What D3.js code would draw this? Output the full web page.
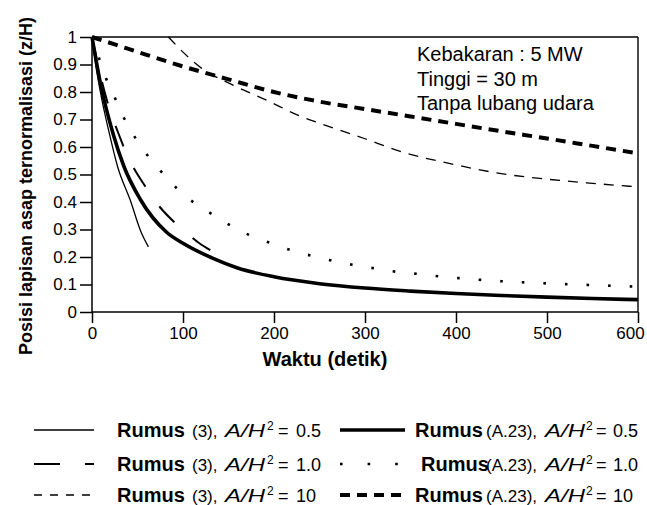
<!DOCTYPE html>
<html><head><meta charset="utf-8">
<script src="https://cdn.jsdelivr.net/npm/d3@7/dist/d3.min.js"></script>
<style>
body{margin:0;background:#fff}
svg{display:block}
text{font-family:"Liberation Sans",Arial,Helvetica,sans-serif;fill:#000}
</style>
</head><body>
<svg id="chart" width="647" height="505"></svg>
<script>
// ---------- data ----------
const xTickValues = [0, 100, 200, 300, 400, 500, 600];
const xTickLabels = ["0", "100", "200", "300", "400", "500", "600"];
const yTickValues = [0, 0.1, 0.2, 0.3, 0.4, 0.5, 0.6, 0.7, 0.8, 0.9, 1];
const yTickLabels = ["0", "0.1", "0.2", "0.3", "0.4", "0.5", "0.6", "0.7", "0.8", "0.9", "1"];

// Rumus (3), A/H2 = 0.5
const tR3_05 = [0, 4, 11, 19, 28, 42, 54, 62];
const vR3_05 = [1, 0.9, 0.77, 0.65, 0.53, 0.407, 0.29, 0.237];
// Rumus (3), A/H2 = 1.0
const tR3_10 = [0, 10, 20, 29, 40, 52, 60, 75, 91, 105, 118, 130];
const vR3_10 = [1, 0.85, 0.73, 0.65, 0.56, 0.49, 0.45, 0.38, 0.325, 0.285, 0.25, 0.225];
// Rumus (3), A/H2 = 10
const tR3_100 = [84, 100, 119, 155, 192, 229, 254, 300, 338, 400, 448, 500, 550, 600];
const vR3_100 = [1, 0.945, 0.89, 0.825, 0.77, 0.712, 0.682, 0.63, 0.585, 0.535, 0.504, 0.483, 0.468, 0.455];
// Rumus (A.23), A/H2 = 0.5
const tA23_05 = [0, 10, 23, 35, 53, 82, 100, 133, 160, 200, 250, 300, 350, 400, 450, 500, 550, 600];
const vA23_05 = [1, 0.82, 0.65, 0.53, 0.41, 0.29, 0.25, 0.195, 0.16, 0.128, 0.103, 0.087, 0.076, 0.067, 0.06, 0.054, 0.049, 0.045];
// Rumus (A.23), A/H2 = 1.0
const tA23_10 = [0, 8, 15, 25, 34, 45, 57, 71, 86, 103, 122, 141, 160, 203, 226, 249, 272, 295, 317, 340, 363, 386, 407, 450, 500, 550, 600];
const vA23_10 = [1, 0.92, 0.853, 0.78, 0.713, 0.647, 0.587, 0.53, 0.474, 0.42, 0.377, 0.337, 0.3, 0.243, 0.217, 0.199, 0.18, 0.167, 0.155, 0.144, 0.137, 0.128, 0.122, 0.112, 0.104, 0.098, 0.092];
// Rumus (A.23), A/H2 = 10
const tA23_100 = [0, 25, 60, 100, 150, 200, 250, 300, 350, 400, 450, 500, 550, 600];
const vA23_100 = [1, 0.973, 0.935, 0.893, 0.846, 0.8, 0.765, 0.738, 0.711, 0.684, 0.657, 0.631, 0.604, 0.577];

const seriesFormula = ["(3),", "(3),", "(3),", "(A.23),", "(A.23),", "(A.23),"];
const seriesRatio = ["0.5", "1.0", "10", "0.5", "1.0", "10"];

const annotationLines = ["Kebakaran : 5 MW", "Tinggi = 30 m", "Tanpa lubang udara"];
const xTitle = "Waktu (detik)";
const yTitle = "Posisi lapisan asap ternormalisasi (z/H)";

// ---------- styles ----------
const styles = [
  {w: 1.3, dash: null},
  {w: 2, dash: "22,24", legendDash: "26,25,10,100"},
  {w: 1.3, dash: "10,8", legendDash: "8,8"},
  {w: 3.6, dash: null},
  {w: 2.6, dash: "2.6,19", legendDash: "2.6,25"},
  {w: 4, dash: "10,7", legendDash: "10,7"}
];

const series = [
  [tR3_05, vR3_05], [tR3_10, vR3_10], [tR3_100, vR3_100],
  [tA23_05, vA23_05], [tA23_10, vA23_10], [tA23_100, vA23_100]
];

const svg = d3.select("#chart");
const L = 92, R = 638, T = 37, B = 312;
const x = d3.scaleLinear().domain([0, 600]).range([L, R]);
const y = d3.scaleLinear().domain([0, 1]).range([B, T]);

// frame
svg.append("line").attr("x1", L).attr("x2", R).attr("y1", T).attr("y2", T).attr("stroke", "#000").attr("stroke-width", 1.4);
svg.append("line").attr("x1", R).attr("x2", R).attr("y1", T).attr("y2", B).attr("stroke", "#000").attr("stroke-width", 1.4);

// axes
const xAxis = d3.axisBottom(x).tickValues(xTickValues).tickFormat((d, i) => xTickLabels[i]).tickSizeOuter(0).tickSize(11).tickPadding(4);
const gx = svg.append("g").attr("transform", `translate(0,${B})`).call(xAxis);
const yAxis = d3.axisLeft(y).tickValues(yTickValues).tickFormat((d, i) => yTickLabels[i]).tickSizeOuter(0).tickSize(12).tickPadding(3);
const gy = svg.append("g").attr("transform", `translate(${L},0)`).call(yAxis);
[gx, gy].forEach(g => {
  g.selectAll("path.domain").attr("stroke", "#000").attr("stroke-width", 1.5);
  g.selectAll(".tick line").attr("stroke", "#000").attr("stroke-width", 1.5);
  g.selectAll(".tick text").attr("fill", "#000").style("font-size", "17px").style("font-family", '"Liberation Sans",Arial,sans-serif');
});
gy.select("path.domain").attr("d", `M0,${B}V${T}`);
gx.select("path.domain").attr("d", `M${L},0H${R}`);
// last x label kept inside the picture
gx.selectAll(".tick text").filter(d => d === 600).attr("dx", -8);

// curves
const line = d3.line().x(d => x(d[0])).y(d => y(d[1])).curve(d3.curveMonotoneX);
series.forEach((s, i) => {
  const pts = s[0].map((t, j) => [t, s[1][j]]);
  const p = svg.append("path").attr("d", line(pts)).attr("fill", "none")
    .attr("stroke", "#000").attr("stroke-width", styles[i].w);
  if (styles[i].dash) p.attr("stroke-dasharray", styles[i].dash);
});

// annotation
annotationLines.forEach((s, i) => {
  svg.append("text").attr("x", 417).attr("y", 61 + i * 24.5).style("font-size", "20px").text(s);
});

// axis titles
svg.append("text").attr("x", 325).attr("y", 366).attr("text-anchor", "middle")
  .style("font-size", "20px").style("font-weight", "bold").text(xTitle);
svg.append("text").attr("transform", "translate(32,186) rotate(-90)").attr("text-anchor", "middle")
  .style("font-size", "18px").style("font-weight", "bold").text(yTitle);

// legend
const legendRowY = [430, 464, 495];
const legendCols = [{lx1: 34, lx2: 94, tx: 117}, {lx1: 340, lx2: 405, tx: 415}];
series.forEach((s, i) => {
  const col = legendCols[Math.floor(i / 3)], row = i % 3;
  const yy = legendRowY[row];
  const ln = svg.append("line").attr("x1", col.lx1).attr("x2", col.lx2).attr("y1", yy).attr("y2", yy)
    .attr("stroke", "#000").attr("stroke-width", styles[i].w);
  if (styles[i].legendDash) ln.attr("stroke-dasharray", styles[i].legendDash);
  const isA = i >= 3;
  const off = isA ? [0, 71, 130, 171, 181, 198] : [0, 75, 108, 150, 161, 179];
  const g = svg.append("g").attr("transform", `translate(${col.tx},${yy + 7})`);
  g.append("text").attr("x", off[0] + (isA && row === 1 ? 6 : 0)).style("font-size", "20px").style("font-weight", "bold").text("Rumus");
  g.append("text").attr("x", off[1]).style("font-size", "17px").text(seriesFormula[i]);
  g.append("text").attr("x", off[2]).style("font-size", "19px").style("font-style", "italic")
    .attr("textLength", 40).attr("lengthAdjust", "spacingAndGlyphs").text("A/H");
  g.append("text").attr("x", off[3]).attr("y", -7).style("font-size", "12px").text("2");
  g.append("text").attr("x", off[4]).style("font-size", "18px").text("=");
  g.append("text").attr("x", off[5]).style("font-size", "18px").text(seriesRatio[i]);
});
</script>
</body></html>
